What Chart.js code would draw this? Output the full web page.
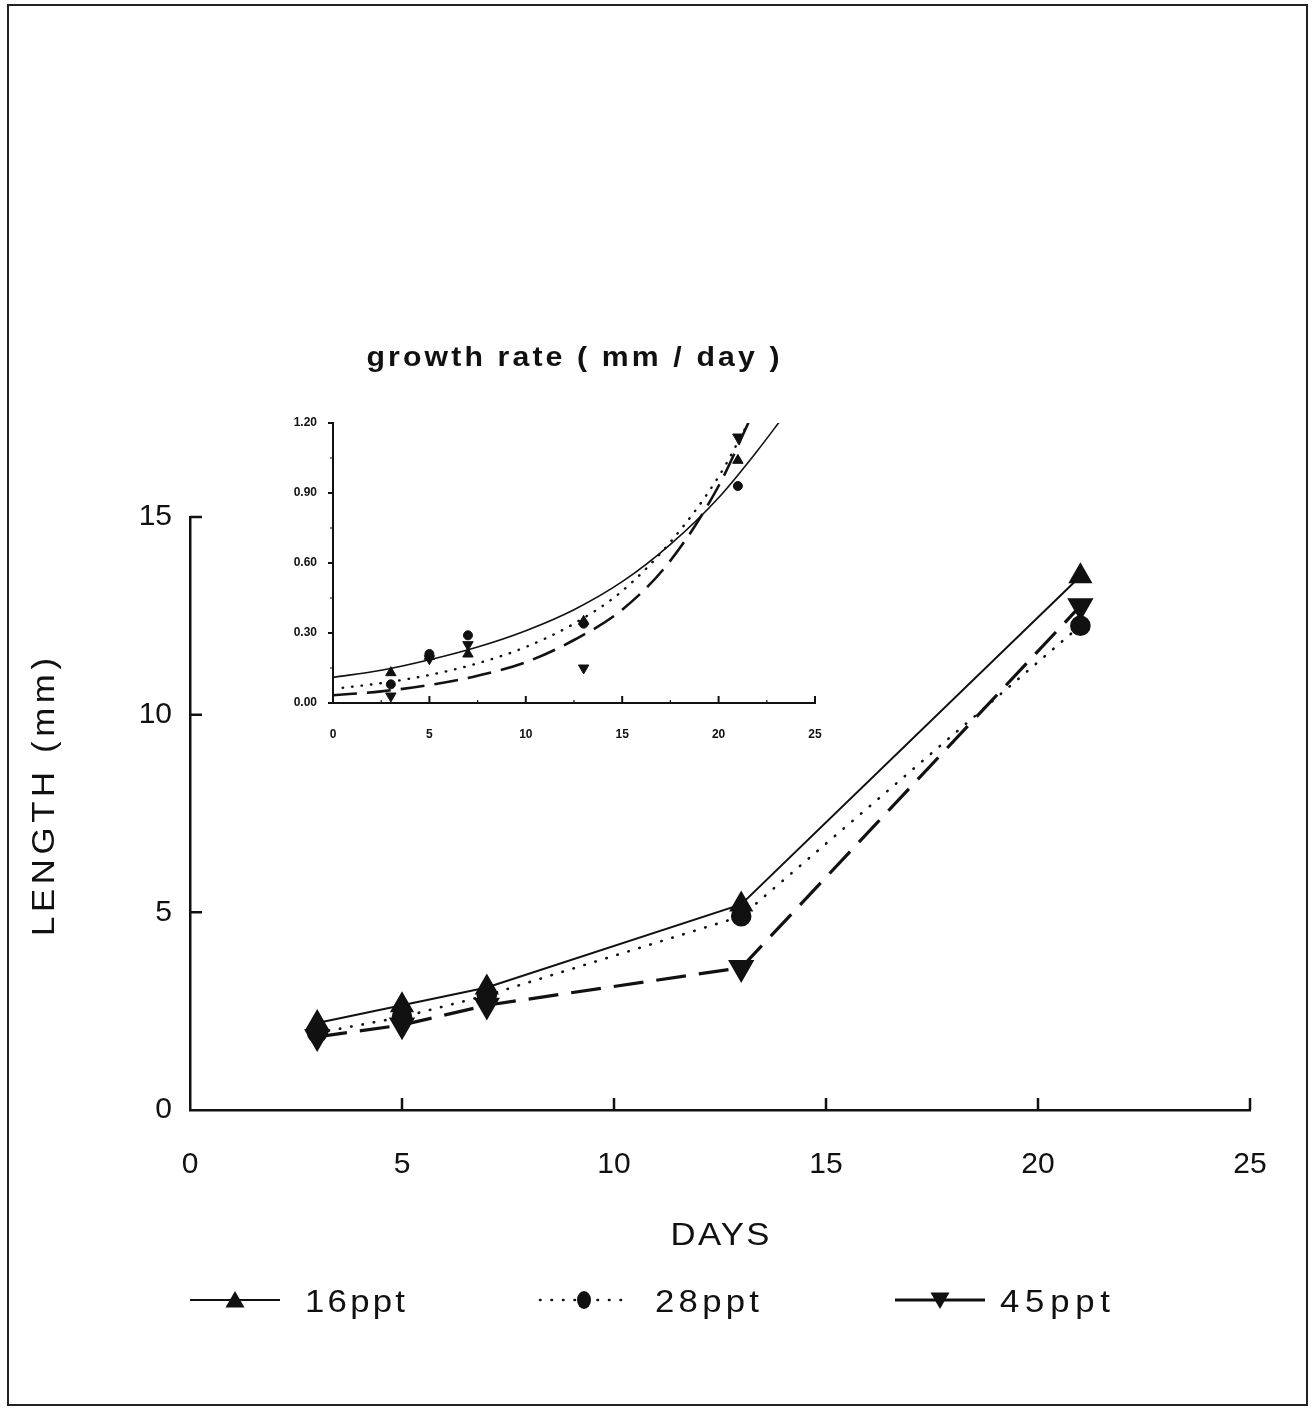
<!DOCTYPE html>
<html>
<head>
<meta charset="utf-8">
<script src="https://cdn.jsdelivr.net/npm/chart.js@4.4.0/dist/chart.umd.min.js"></script>
<style>
    html, body { margin: 0; padding: 0; background: #fff; }
    #wrap { position: relative; width: 1313px; height: 1410px; }
    #main { position: absolute; left: 0; top: 0; }
    #inset { position: absolute; left: 280px; top: 330px; }
</style>
</head>
<body>
<div id="wrap">
    <canvas id="main" width="1313" height="1410"></canvas>
    <canvas id="inset" width="560" height="410"></canvas>
</div>
<script>
// --- data ---
const days = [3, 5, 7, 13, 21];
const seriesNames = ['16ppt', '28ppt', '45ppt'];

// main panel: LENGTH (mm)
const len16 = [2.2, 2.65, 3.1, 5.2, 13.5];
const len28 = [1.95, 2.35, 2.9, 4.9, 12.25];
const len45 = [1.85, 2.15, 2.65, 3.6, 12.75];

// inset: growth rate (mm / day)
const rate16 = [0.13, 0.20, 0.21, 0.35, 1.04];
const rate28 = [0.08, 0.21, 0.29, 0.34, 0.93];
const rate45 = [0.03, 0.19, 0.25, 0.15, 1.14];

// inset fitted curves
const fitDays16 = [0, 2.5, 5, 7.5, 10, 12.5, 15, 17.5, 20, 22, 23.2];
const fit16 = [0.11, 0.14, 0.185, 0.24, 0.31, 0.40, 0.52, 0.68, 0.88, 1.08, 1.21];
const fitDays28 = [0.5, 2.5, 5, 7.5, 10, 12.5, 15, 17.5, 20, 21.6];
const fit28 = [0.065, 0.085, 0.12, 0.17, 0.24, 0.34, 0.48, 0.69, 0.97, 1.21];
const fitDays45 = [0, 2.5, 5, 7.5, 10, 12.5, 15, 17.5, 20, 21.6];
const fit45 = [0.033, 0.05, 0.077, 0.117, 0.175, 0.27, 0.40, 0.61, 0.93, 1.21];

// axis ticks
const mainXTicks = [0, 5, 10, 15, 20, 25];
const mainYTicks = [0, 5, 10, 15];
const insetXTicks = [0, 5, 10, 15, 20, 25];
const insetYTicks = [0, 0.3, 0.6, 0.9, 1.2];

const ink = '#111';
const fam = '"Liberation Sans", Arial, sans-serif';

const pts = (xs, ys) => xs.map((x, i) => ({ x: x, y: ys[i] }));

// the original lettering is wide: stretch a little, then space out the rest
function wideText(ctx, txt, cx, cy, font, w, rot) {
    ctx.save();
    ctx.font = font;
    ctx.fillStyle = ink;
    ctx.textAlign = 'left';
    ctx.textBaseline = 'middle';
    ctx.translate(cx, cy);
    if (rot) ctx.rotate(rot);
    const base = ctx.measureText(txt).width;
    const s = Math.min(1.12, w / base);
    ctx.scale(s, 1);
    if ('letterSpacing' in ctx && txt.length > 1 && w / s > base) {
        ctx.letterSpacing = ((w / s - base) / (txt.length - 1)) + 'px';
    }
    ctx.fillText(txt, -w / s / 2, 0);
    ctx.restore();
}

function tri(ctx, x, y, r, down) {
    const s = down ? -1 : 1;
    ctx.beginPath();
    ctx.moveTo(x, y - s * r);
    ctx.lineTo(x + r * 0.866, y + s * r * 0.5);
    ctx.lineTo(x - r * 0.866, y + s * r * 0.5);
    ctx.closePath();
    ctx.fill();
}

// tick marks pointing into the plot (Chart.js only draws them outside)
function tickMarks(chart, o) {
    const { ctx, scales: { x, y } } = chart;
    ctx.save();
    ctx.strokeStyle = ink;
    ctx.lineWidth = o.w;
    ctx.beginPath();
    x.ticks.forEach(t => {
        const px = x.getPixelForValue(t.value);
        if (px < x.left + 2) return;
        ctx.moveTo(px, y.bottom);
        ctx.lineTo(px, y.bottom - o.xLen);
    });
    y.ticks.forEach(t => {
        const py = y.getPixelForValue(t.value);
        if (py > y.bottom - 2) return;
        ctx.moveTo(x.left, py);
        ctx.lineTo(x.left + o.yLen, py);
    });
    ctx.stroke();
    if (o.minor) {
        ctx.lineWidth = 1.2;
        ctx.beginPath();
        for (let i = 0; i < x.ticks.length - 1; i++) {
            const px = x.getPixelForValue((x.ticks[i].value + x.ticks[i + 1].value) / 2);
            ctx.moveTo(px, y.bottom);
            ctx.lineTo(px, y.bottom - 3);
        }
        for (let i = 0; i < y.ticks.length - 1; i++) {
            const py = y.getPixelForValue((y.ticks[i].value + y.ticks[i + 1].value) / 2);
            ctx.moveTo(x.left, py);
            ctx.lineTo(x.left - 3, py);
        }
        ctx.stroke();
    }
    ctx.restore();
}

const mainDecor = {
    id: 'mainDecor',
    beforeDraw(chart) {
        const ctx = chart.ctx;
        ctx.save();
        ctx.fillStyle = '#fff';
        ctx.fillRect(0, 0, chart.width, chart.height);
        ctx.strokeStyle = '#222';
        ctx.lineWidth = 2;
        ctx.strokeRect(8, 5, 1299, 1400);
        ctx.restore();
    },
    afterDraw(chart) {
        const ctx = chart.ctx;
        tickMarks(chart, { xLen: 12, yLen: 12, w: 2.5 });

        wideText(ctx, 'DAYS', 720, 1236, '31px ' + fam, 99);
        wideText(ctx, 'LENGTH (mm)', 45, 797, '31px ' + fam, 278, -Math.PI / 2);

        // legend
        const ds = chart.data.datasets;
        const keys = [
            { x0: 190, x1: 280, tx: 355, tw: 100 },
            { x0: 540, x1: 628, tx: 707, tw: 104 },
            { x0: 895, x1: 985, tx: 1055, tw: 110 }
        ];
        const ly = 1300;
        keys.forEach((k, i) => {
            const d = ds[i];
            ctx.save();
            ctx.strokeStyle = ink;
            ctx.fillStyle = ink;
            ctx.lineWidth = d.borderWidth;
            ctx.lineCap = d.borderCapStyle || 'butt';
            ctx.setLineDash(i === 2 ? [] : (d.borderDash || []));
            ctx.beginPath();
            ctx.moveTo(k.x0, ly);
            ctx.lineTo(k.x1, ly);
            ctx.stroke();
            ctx.setLineDash([]);
            const cx = (k.x0 + k.x1) / 2;
            if (d.pointStyle === 'circle') {
                ctx.beginPath();
                ctx.ellipse(cx, ly, 7, 9, 0, 0, Math.PI * 2);
                ctx.fill();
            } else {
                tri(ctx, cx, ly + (i === 2 ? -2 : 2), 11, i === 2);
            }
            ctx.restore();
            wideText(ctx, d.label, k.tx, ly + 3, '31px ' + fam, k.tw);
        });
    }
};

const insetDecor = {
    id: 'insetDecor',
    afterDraw(chart) {
        const ctx = chart.ctx;
        const { x, y } = chart.scales;
        // x ticks up, y ticks out to the left
        ctx.save();
        ctx.strokeStyle = ink;
        ctx.lineWidth = 2;
        ctx.beginPath();
        x.ticks.forEach(t => {
            const px = x.getPixelForValue(t.value);
            if (px < x.left + 2) return;
            ctx.moveTo(px, y.bottom);
            ctx.lineTo(px, y.bottom - 7);
        });
        y.ticks.forEach(t => {
            const py = y.getPixelForValue(t.value);
            ctx.moveTo(x.left, py);
            ctx.lineTo(x.left - 5, py);
        });
        ctx.stroke();
        ctx.restore();
        tickMarks(chart, { xLen: 0, yLen: 0, w: 0.01, minor: true });
        wideText(ctx, 'growth rate ( mm / day )', 293, 29, '600 27px ' + fam, 413);
    }
};

const mainSets = [
    {
        label: seriesNames[0], data: pts(days, len16),
        borderColor: ink, borderWidth: 2,
        pointStyle: 'triangle', pointRadius: 12, pointBackgroundColor: ink, pointBorderColor: ink
    },
    {
        label: seriesNames[1], data: pts(days, len28),
        borderColor: ink, borderWidth: 2.6, borderDash: [0.5, 11], borderCapStyle: 'round',
        pointStyle: 'circle', pointRadius: 9, pointBackgroundColor: ink, pointBorderColor: ink
    },
    {
        label: seriesNames[2], data: pts(days, len45),
        borderColor: ink, borderWidth: 3.2, borderDash: [30, 13],
        pointStyle: 'triangle', pointRotation: 180, pointRadius: 12, pointBackgroundColor: ink, pointBorderColor: ink
    }
];

new Chart(document.getElementById('main'), {
    type: 'line',
    data: { datasets: mainSets },
    options: {
        responsive: false,
        animation: false,
        events: [],
        layout: { padding: { left: 0, top: 517, right: 63, bottom: 0 } },
        plugins: { legend: { display: false }, tooltip: { enabled: false } },
        scales: {
            x: {
                type: 'linear', min: 0, max: 25,
                afterBuildTicks(s) { s.ticks = mainXTicks.map(v => ({ value: v })); },
                afterFit(s) { s.height = 300; },
                ticks: { padding: 29, color: ink, font: { family: fam, size: 30 } },
                grid: { display: false },
                border: { color: ink, width: 2.5 }
            },
            y: {
                type: 'linear', min: 0, max: 15,
                afterBuildTicks(s) { s.ticks = mainYTicks.map(v => ({ value: v })); },
                afterFit(s) { s.width = 190; },
                ticks: { padding: 10, color: ink, font: { family: fam, size: 30 } },
                grid: { display: false },
                border: { color: ink, width: 2.5 }
            }
        }
    },
    plugins: [mainDecor]
});

const insetSets = [
    {
        label: '16ppt fit', data: pts(fitDays16, fit16), type: 'line',
        borderColor: ink, borderWidth: 1.6, pointRadius: 0, cubicInterpolationMode: 'monotone'
    },
    {
        label: '28ppt fit', data: pts(fitDays28, fit28), type: 'line',
        borderColor: ink, borderWidth: 2.4, borderDash: [0.5, 9], borderCapStyle: 'round',
        pointRadius: 0, cubicInterpolationMode: 'monotone'
    },
    {
        label: '45ppt fit', data: pts(fitDays45, fit45), type: 'line',
        borderColor: ink, borderWidth: 2.6, borderDash: [24, 10],
        pointRadius: 0, cubicInterpolationMode: 'monotone'
    },
    {
        label: '16ppt', data: pts(days, rate16), showLine: false,
        pointStyle: 'triangle', pointRadius: 6, pointBackgroundColor: ink, pointBorderColor: ink
    },
    {
        label: '28ppt', data: pts(days, rate28), showLine: false,
        pointStyle: 'circle', pointRadius: 4.5, pointBackgroundColor: ink, pointBorderColor: ink
    },
    {
        label: '45ppt', data: pts(days, rate45), showLine: false,
        pointStyle: 'triangle', pointRotation: 180, pointRadius: 6, pointBackgroundColor: ink, pointBorderColor: ink
    }
];

new Chart(document.getElementById('inset'), {
    type: 'scatter',
    data: { datasets: insetSets },
    options: {
        responsive: false,
        animation: false,
        events: [],
        layout: { padding: { left: 0, top: 93, right: 25, bottom: 0 } },
        plugins: { legend: { display: false }, tooltip: { enabled: false } },
        scales: {
            x: {
                type: 'linear', min: 0, max: 25,
                afterBuildTicks(s) { s.ticks = insetXTicks.map(v => ({ value: v })); },
                afterFit(s) { s.height = 37; },
                ticks: { padding: 16, color: ink, font: { family: fam, size: 12, weight: 'bold' } },
                grid: { display: false },
                border: { color: ink, width: 2 }
            },
            y: {
                type: 'linear', min: 0, max: 1.2,
                afterBuildTicks(s) { s.ticks = insetYTicks.map(v => ({ value: v })); },
                afterFit(s) { s.width = 53; },
                ticks: {
                    padding: 8, color: ink, font: { family: fam, size: 12, weight: 'bold' },
                    callback: v => v.toFixed(2)
                },
                grid: { display: false },
                border: { color: ink, width: 2 }
            }
        }
    },
    plugins: [insetDecor]
});
</script>
</body>
</html>
